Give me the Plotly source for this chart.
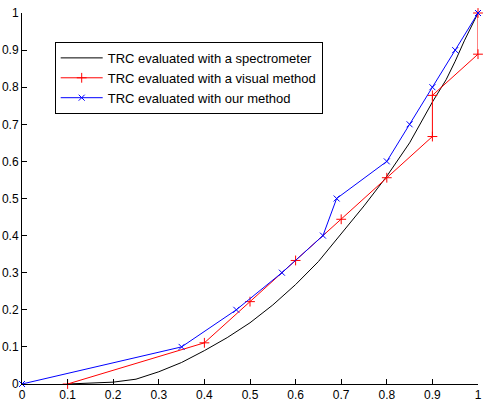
import plotly.graph_objects as go

# Spectrometer TRC
spec_x = [0.1, 0.15, 0.2, 0.25, 0.3, 0.35, 0.4, 0.45, 0.5, 0.55, 0.6, 0.65, 0.7, 0.75, 0.8, 0.85, 0.9, 0.93, 0.95, 0.97, 1.0]
spec_y = [0.0, 0.002, 0.005, 0.013, 0.033, 0.058, 0.09, 0.125, 0.165, 0.213, 0.268, 0.33, 0.405, 0.48, 0.56, 0.65, 0.76, 0.82, 0.87, 0.925, 1.0]

# Visual method TRC
vis_x = [0.1, 0.4, 0.5, 0.6, 0.7, 0.8, 0.9, 0.9, 1.0, 1.0]
vis_y = [0.0, 0.111, 0.222, 0.333, 0.444, 0.556, 0.667, 0.778, 0.889, 1.0]

# Our method TRC
our_x = [0.0, 0.35, 0.47, 0.57, 0.66, 0.69, 0.8, 0.85, 0.9, 0.95, 1.0]
our_y = [0.0, 0.1, 0.2, 0.3, 0.4, 0.5, 0.6, 0.7, 0.8, 0.9, 1.0]

ticks = [0, 0.1, 0.2, 0.3, 0.4, 0.5, 0.6, 0.7, 0.8, 0.9, 1]
tick_text = ["0", "0.1", "0.2", "0.3", "0.4", "0.5", "0.6", "0.7", "0.8", "0.9", "1"]

font = dict(family="Liberation Sans, Arial, sans-serif", size=12, color="black")

fig = go.Figure()
fig.add_trace(go.Scatter(x=spec_x, y=spec_y, mode="lines",
                         line=dict(color="black", width=1),
                         name="TRC evaluated with a spectrometer", cliponaxis=False))
fig.add_trace(go.Scatter(x=vis_x, y=vis_y, mode="lines+markers",
                         line=dict(color="#ff0000", width=1),
                         marker=dict(symbol="cross-thin", size=7, color="#ff0000",
                                     line=dict(color="#ff0000", width=1)),
                         name="TRC evaluated with a visual method", cliponaxis=False))
fig.add_trace(go.Scatter(x=our_x, y=our_y, mode="lines+markers",
                         line=dict(color="#0000ff", width=1),
                         marker=dict(symbol="x-thin", size=6, color="#0000ff",
                                     line=dict(color="#0000ff", width=1)),
                         name="TRC evaluated with our method", cliponaxis=False))

fig.update_layout(
    width=484, height=404,
    margin=dict(l=22, r=2, t=13, b=20),
    paper_bgcolor="white", plot_bgcolor="white",
    font=font,
    showlegend=True,
    legend=dict(x=0.0717, y=0.922, xanchor="left", yanchor="top",
                bgcolor="white", bordercolor="black", borderwidth=1,
                font=dict(family="Liberation Sans, Arial, sans-serif", size=13, color="black"),
                tracegroupgap=0, itemwidth=42),
    xaxis=dict(range=[0, 1], tickvals=ticks, ticktext=tick_text,
               showgrid=False, zeroline=False, showline=True, linecolor="black",
               linewidth=1, ticks="inside", ticklen=5, tickcolor="black",
               ticklabeloverflow="allow"),
    yaxis=dict(range=[0, 1], tickvals=ticks, ticktext=tick_text,
               showgrid=False, zeroline=False, showline=True, linecolor="black",
               linewidth=1, ticks="inside", ticklen=5, tickcolor="black",
               ticklabeloverflow="allow"),
)

fig.write_html("out.html")
